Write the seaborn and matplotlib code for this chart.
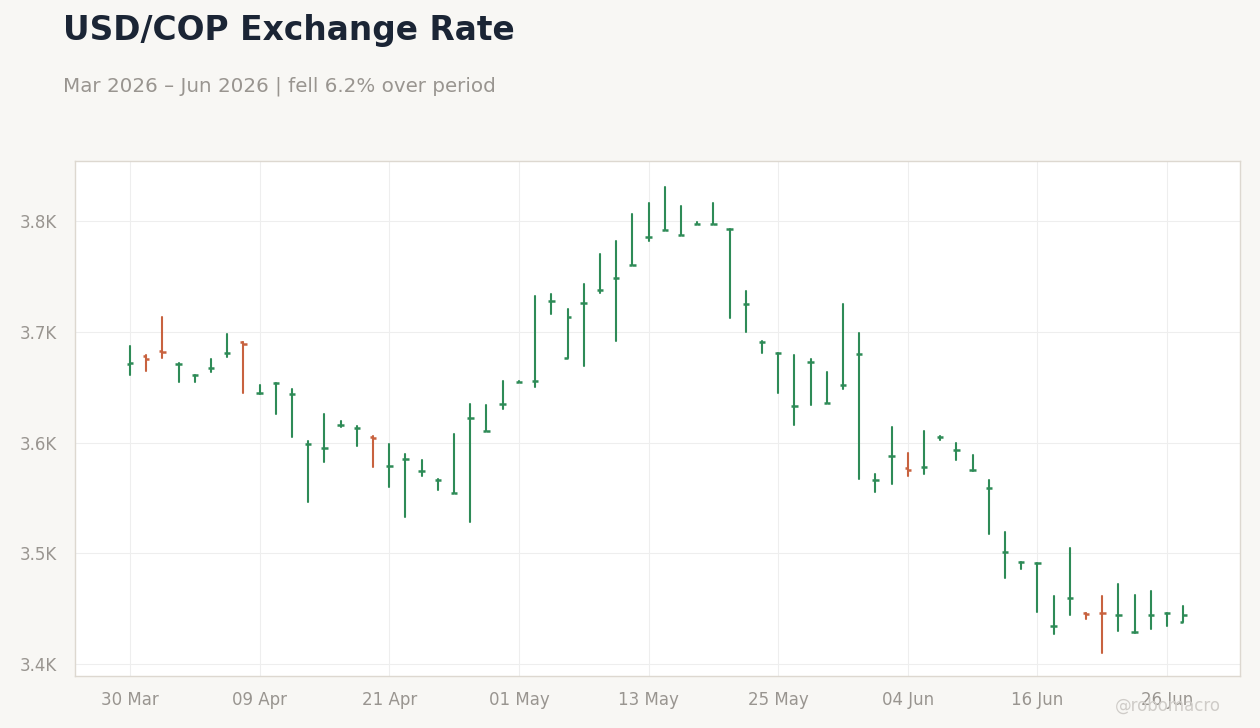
import numpy as np
import pandas as pd
import matplotlib
matplotlib.use("Agg")
import matplotlib.pyplot as plt
import seaborn as sns

# ---------------- data ----------------
start_date = "2026-03-30"
n_days = 66
opens = [3671, 3678, 3683, 3671, 3661, 3667, 3681, 3691, 3645, 3654,
         3644, 3599, 3595, 3616, 3613, 3605, 3579, 3585, 3574, 3566,
         3554, 3622, 3610, 3635, 3655, 3656, 3728, 3676, 3726, 3738,
         3749, 3760, 3786, 3792, 3787, 3797, 3797, 3793, 3725, 3691,
         3681, 3633, 3673, 3636, 3652, 3680, 3566, 3588, 3577, 3578,
         3605, 3593, 3575, 3559, 3501, 3492, 3491, 3434, 3460, 3446,
         3446.5, 3444, 3429, 3444, 3446, 3438]
highs = [3687, 3679, 3713, 3672, 3661, 3675, 3698, 3691, 3652, 3654,
         3648, 3601, 3626, 3619, 3615, 3606, 3599, 3590, 3584, 3567,
         3608, 3635, 3634, 3656, 3656, 3732, 3734, 3721, 3743, 3770,
         3782, 3806, 3816, 3831, 3814, 3799, 3816, 3793, 3737, 3692,
         3681, 3679, 3675, 3664, 3725, 3699, 3572, 3614, 3591, 3610,
         3606, 3600, 3589, 3566, 3519, 3492, 3491, 3461, 3505, 3446,
         3461, 3472, 3462, 3466, 3446, 3452]
lows = [3661, 3665, 3676, 3655, 3655, 3664, 3677, 3645, 3644, 3626,
        3605, 3546, 3582, 3614, 3597, 3578, 3560, 3533, 3570, 3557,
        3554, 3528, 3610, 3630, 3655, 3650, 3716, 3676, 3669, 3735,
        3692, 3760, 3782, 3792, 3787, 3797, 3797, 3712, 3700, 3681,
        3645, 3616, 3634, 3636, 3648, 3567, 3555, 3563, 3570, 3572,
        3602, 3584, 3574, 3517, 3478, 3486, 3447, 3427, 3444, 3441,
        3410, 3430, 3428, 3432, 3434, 3438]
closes = [3672, 3675, 3682, 3671, 3661, 3667, 3681, 3689, 3645, 3654,
          3644, 3599, 3595, 3616, 3613, 3604, 3579, 3585, 3574, 3566,
          3554, 3622, 3610, 3635, 3655, 3656, 3728, 3713, 3726, 3738,
          3749, 3760, 3786, 3792, 3787, 3797, 3797, 3793, 3725, 3691,
          3681, 3633, 3673, 3636, 3652, 3680, 3566, 3588, 3575, 3578,
          3605, 3593, 3575, 3559, 3501, 3492, 3491, 3434, 3460, 3445,
          3446, 3444, 3429, 3444, 3446, 3444]
yticks = [3400, 3500, 3600, 3700, 3800]
title = "USD/COP Exchange Rate"
subtitle = "Mar 2026 \u2013 Jun 2026 | fell 6.2% over period"
watermark = "@robomacro"

UP = "#2E8B57"
DOWN = "#C8623F"

dates = pd.bdate_range(start_date, periods=n_days)
df = pd.DataFrame({"date": dates, "open": opens, "high": highs,
                   "low": lows, "close": closes})
df["i"] = np.arange(len(df))
df["dir"] = np.where(df["close"] >= df["open"], "up", "down")

# long-form for the high-low wicks
wick = pd.concat([
    df[["i", "dir"]].assign(val=df["low"]),
    df[["i", "dir"]].assign(val=df["high"]),
]).sort_values(["i", "val"])

sns.set_theme(style="white")
plt.rcParams["font.family"] = ["DejaVu Sans"]

fig = plt.figure(figsize=(12.6, 7.28), dpi=100, facecolor="#F8F7F4")
ax = fig.add_axes([75 / 1260, 1 - 676 / 728, (1240 - 75) / 1260, (676 - 161) / 728])
ax.set_facecolor("white")

sns.lineplot(data=wick, x="i", y="val", hue="dir", units="i",
             estimator=None, sort=False, palette={"up": UP, "down": DOWN},
             linewidth=1.5, legend=False, ax=ax)

cols = df["dir"].map({"up": UP, "down": DOWN})
tw = 0.2
ax.hlines(df["open"], df["i"] - tw, df["i"], colors=cols, linewidth=1.8)
ax.hlines(df["close"], df["i"], df["i"] + tw, colors=cols, linewidth=1.8)

ax.set_xlim(-3.394, 68.5)
ax.set_ylim(3389.2, 3854.2)
ax.set_yticks(yticks)
ax.set_yticklabels([f"{v/1000:.1f}K" for v in yticks])
xt = list(range(0, n_days, 8))
ax.set_xticks(xt)
ax.set_xticklabels([dates[k].strftime("%d %b") for k in xt])
ax.set_xlabel("")
ax.set_ylabel("")

ax.grid(True, color="#EEEEEE", linewidth=0.8)
ax.set_axisbelow(True)
for s in ax.spines.values():
    s.set_color("#DDD8D0")
    s.set_linewidth(1.0)
ax.tick_params(axis="x", length=5, color="#CCCCCC", labelsize=12,
               labelcolor="#999590", pad=6)
ax.tick_params(axis="y", length=0, labelsize=12, labelcolor="#999590", pad=13)

fig.text(63 / 1260, 1 - 40 / 728, title, fontsize=23.7, fontweight="bold",
         color="#1B2535", va="baseline", ha="left")
fig.text(63 / 1260, 1 - 91 / 728, subtitle, fontsize=14.3, color="#999590",
         va="baseline", ha="left")
fig.text(1221 / 1260, 1 - 711 / 728, watermark, fontsize=12, color="#CFCCC8",
         va="baseline", ha="right")

fig.savefig("out.png", dpi=100, facecolor=fig.get_facecolor())
